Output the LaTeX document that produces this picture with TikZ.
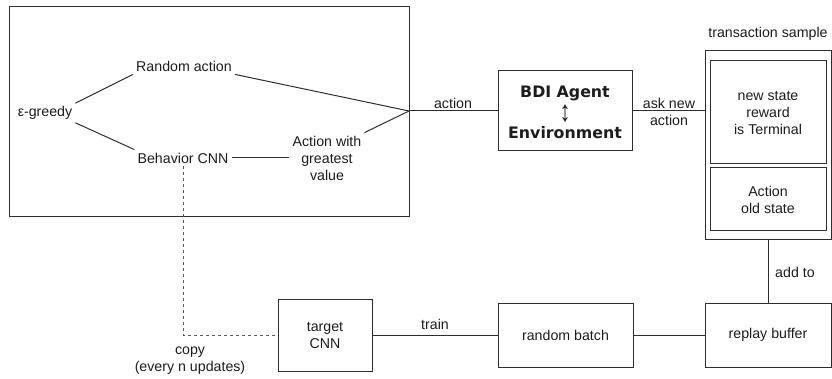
\documentclass[tikz,border=0pt]{standalone}
\usepackage{fontspec}
\usepackage{graphicx}
\setmainfont{Liberation Sans}
\newfontfamily\dejavu{DejaVu Sans}
\definecolor{ink}{HTML}{1C1C1C}
\definecolor{edge}{HTML}{2E2E2E}
\definecolor{dash}{HTML}{5A5A5A}
\begin{document}
\begin{tikzpicture}[x=1pt,y=-1pt,
  every node/.style={text=ink, font=\fontsize{14.2}{17}\selectfont},
  box/.style={draw=edge, line width=1pt, inner sep=0pt, align=center},
  lbl/.style={inner sep=3pt, align=center},
  wire/.style={draw=edge, line width=1pt},
  copyline/.style={draw=dash, line width=1pt, dash pattern=on 3pt off 3pt},
  heavy/.style={inner sep=0pt, font=\dejavu\bfseries\fontsize{15.8}{18}\selectfont},
]
\useasboundingbox (0,0) rectangle (832,379);

% policy container
\node[box, minimum width=400pt, minimum height=210pt] (policy) at (209,112) {};
\coordinate (j) at (409,111);

\node[lbl] (eps)  at (45,113)  {ε-greedy};
\node[lbl] (rand) at (184,66)  {Random action};
\node[lbl] (beh)  at (183,158) {Behavior CNN};
\node[lbl] (act)  at (327,158) {Action with\\greatest\\value};

\draw[wire] (eps.north east) -- (rand.south west);
\draw[wire] (eps.south east) -- (beh.north west);
\draw[wire] (rand.south east) -- (j);
\draw[wire] (beh.east) -- (act.west);
\draw[wire] (act.north east) -- (j);

% agent / environment
\node[box, minimum width=134pt, minimum height=80pt] (bdi) at (565,111) {};
\node[heavy] (agent) at (565,93) {BDI Agent};
\node[inner sep=0pt, font=\fontsize{22}{22}\selectfont] (swap) at (565,114) {\scalebox{1}[1.35]{↕}};
\node[heavy] (env) at (565,133) {Environment};
\draw[wire] (j) -- (bdi.west);
\node[lbl] (lact) at (453,103) {action};

% transaction sample
\node[box, minimum width=126pt, minimum height=189pt] (sample) at (768,145.5) {};
\node[lbl] (lsample) at (768,34) {transaction sample};
\node[box, minimum width=116pt, minimum height=103pt] (newst) at (768,112.5)
  {new state\\reward\\is Terminal};
\node[box, minimum width=116pt, minimum height=63pt] (oldst) at (768,199.5)
  {Action\\old state};
\draw[wire] (bdi.east) -- (bdi.east -| sample.west);
\node[lbl] (lask) at (669,112) {ask new\\action};

% replay / training loop
\node[box, minimum width=126pt, minimum height=64pt] (replay) at (768,335) {replay buffer};
\node[box, minimum width=135pt, minimum height=64pt] (batch) at (565.5,335) {random batch};
\node[box, minimum width=94pt, minimum height=72pt] (target) at (325,335) {target\\CNN};

\draw[wire] (sample.south) -- (replay.north);
\node[lbl, anchor=west] (ladd) at (772,272) {add to};
\draw[wire] (batch.east) -- (replay.west);
\draw[wire] (target.east) -- (batch.west);
\node[lbl] (ltrain) at (435,324) {train};

\draw[copyline] (beh.south) |- (target.west);
\node[lbl] (lcopy) at (190,361) {copy\\(every n updates)};
\end{tikzpicture}
\end{document}
